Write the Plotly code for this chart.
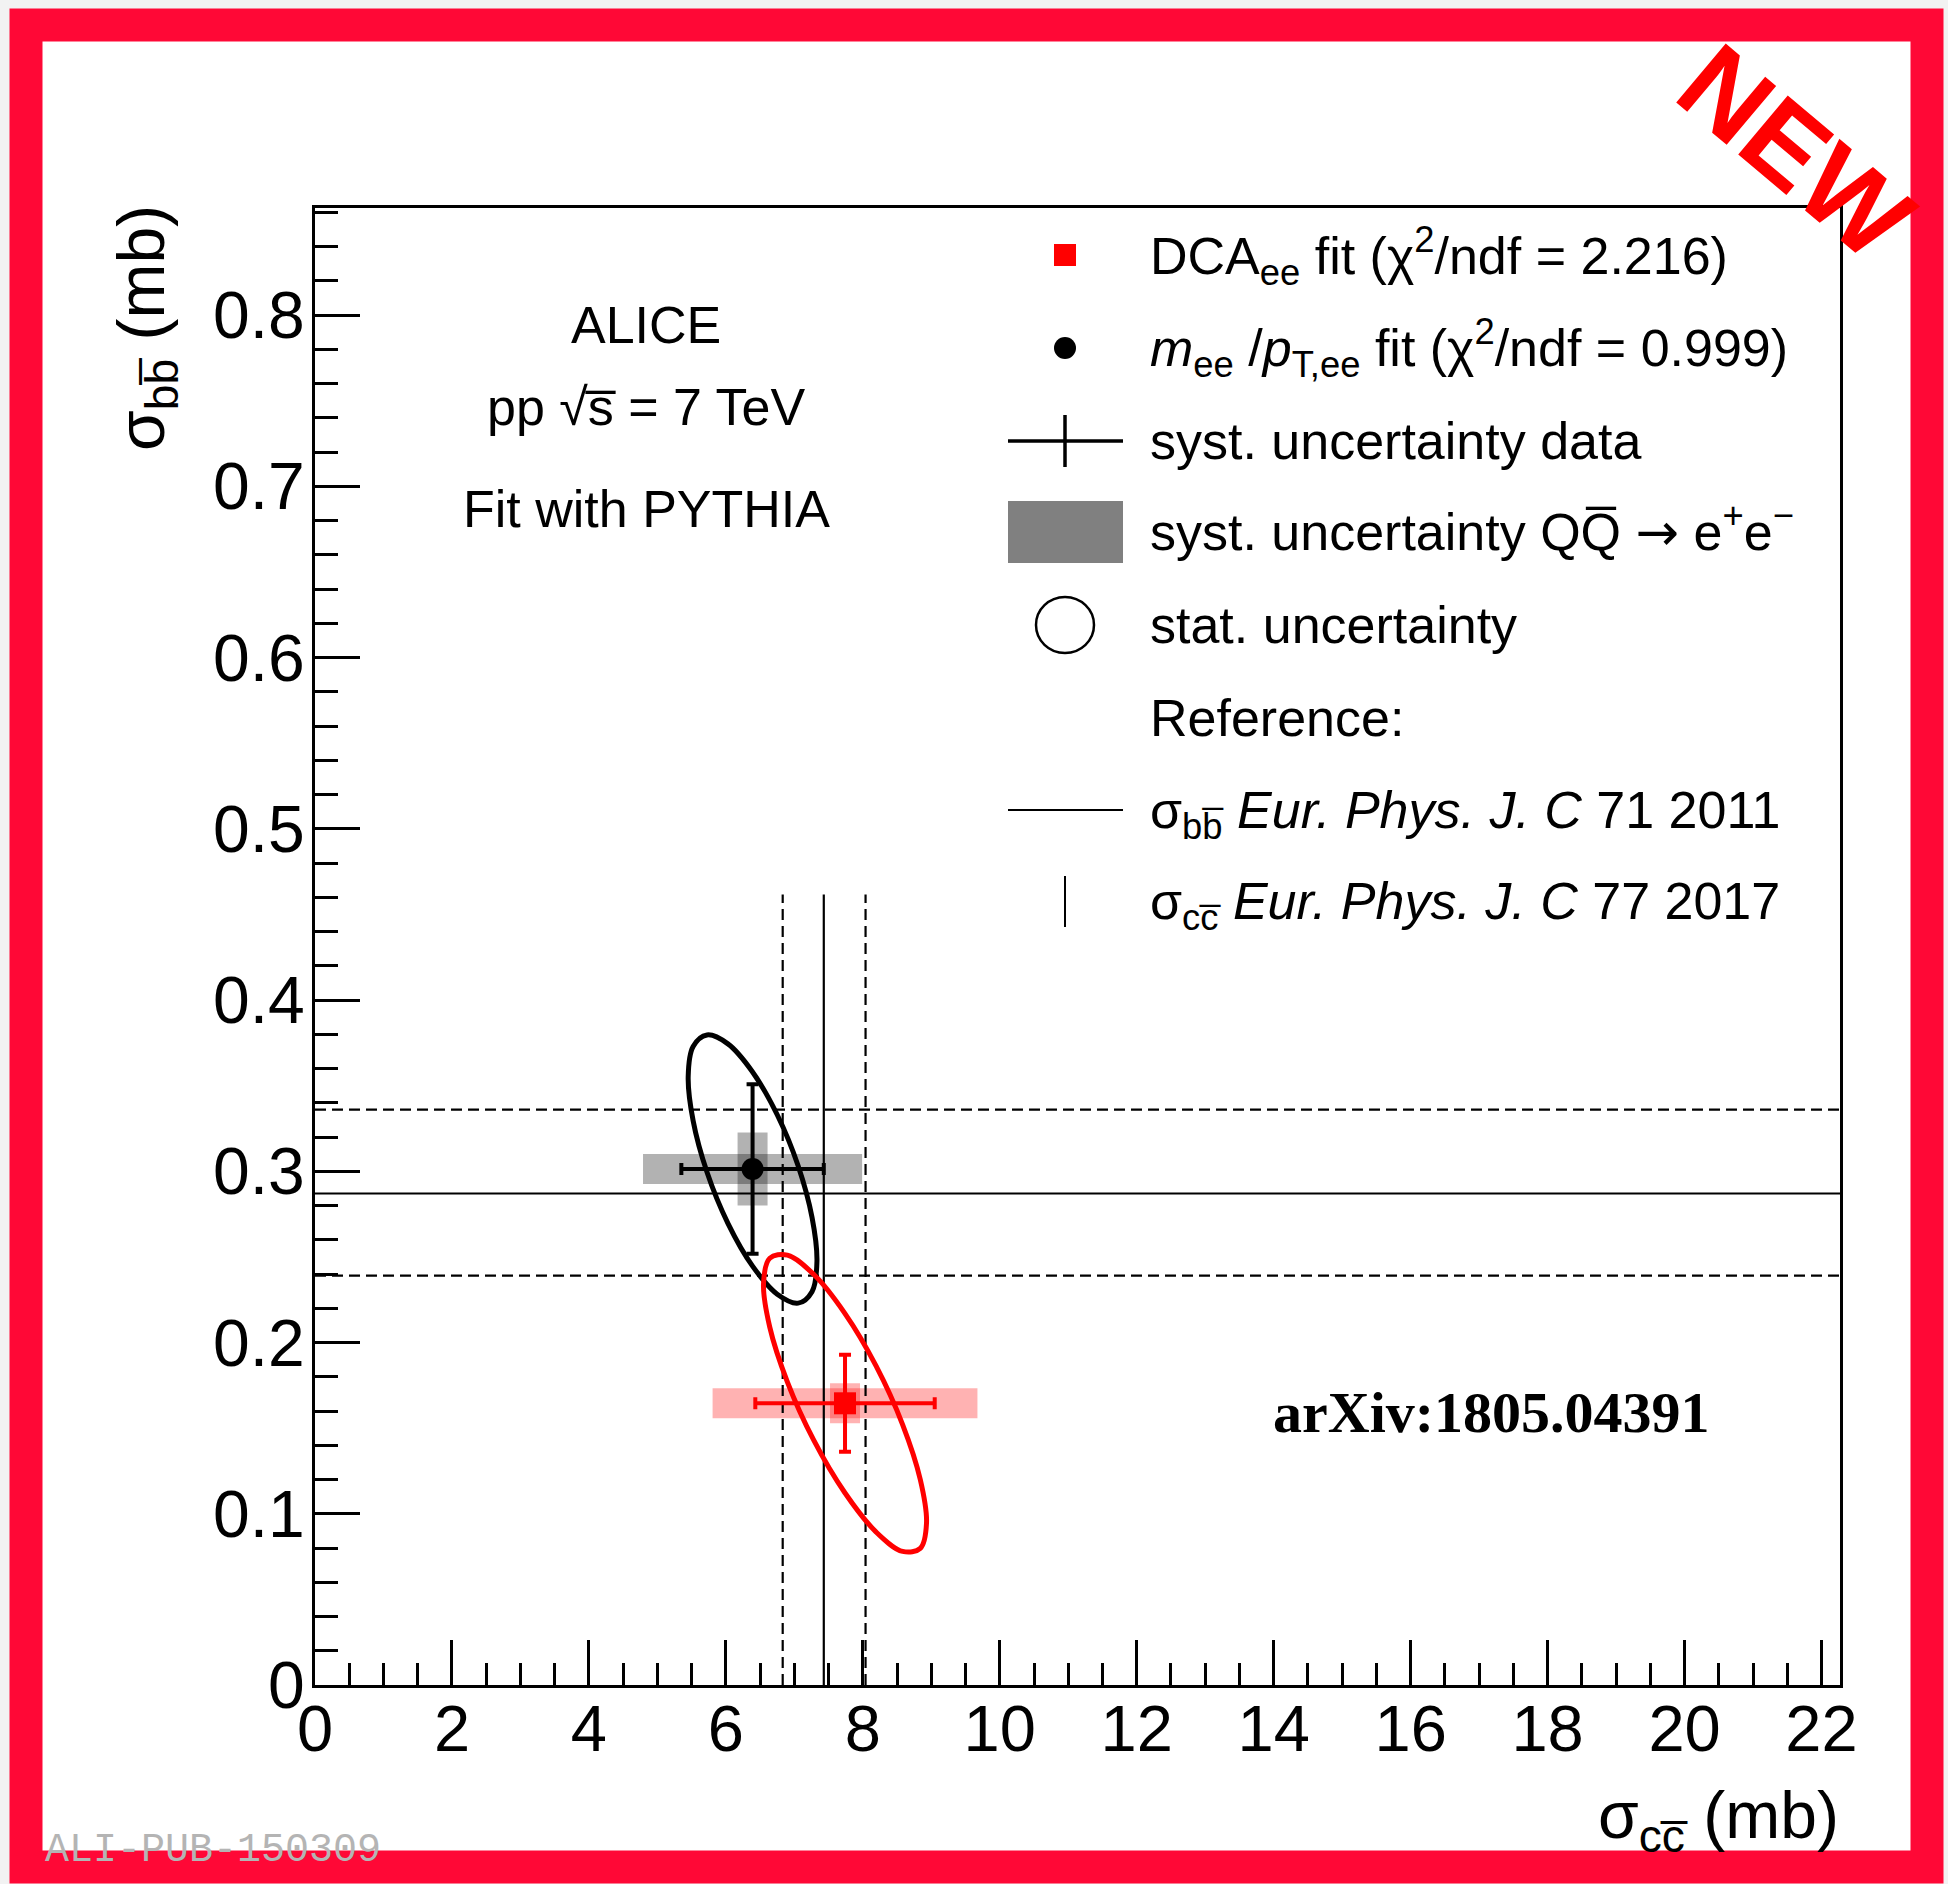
import plotly.graph_objects as go

# ---------------- data ----------------
fit_names = ["DCA_ee fit", "m_ee/pT_ee fit"]
fit_sigma_cc = [7.74, 6.39]          # mb
fit_sigma_bb = [0.1645, 0.3013]      # mb
fit_syst_data_cc = [1.31, 1.04]
fit_syst_data_bb = [0.0283, 0.0495]
fit_syst_qq_cc = [1.934, 1.60]
fit_syst_qq_bb = [0.0117, 0.0213]
fit_colors = ["#ff0000", "#000000"]
fit_box_colors = ["rgba(255,0,0,0.30)", "rgba(0,0,0,0.30)"]
fit_symbols = ["square", "circle"]

# stat. uncertainty contours (points read along each ellipse)
dca_stat_x = [8.93, 8.839, 8.581, 8.195, 7.74, 7.285, 6.899, 6.641, 6.55, 6.641, 6.899, 7.285, 7.74, 8.195, 8.581, 8.839]
dca_stat_y = [0.0946, 0.0798, 0.0780, 0.0893, 0.1121, 0.1428, 0.1769, 0.2090, 0.2344, 0.2492, 0.2510, 0.2397, 0.2169, 0.1862, 0.1521, 0.1200]
mee_stat_x = [7.33, 7.258, 7.055, 6.750, 6.39, 6.030, 5.725, 5.522, 5.45, 5.522, 5.725, 6.030, 6.39, 6.750, 7.055, 7.258]
mee_stat_y = [0.2473, 0.2297, 0.2230, 0.2282, 0.2446, 0.2696, 0.2994, 0.3295, 0.3553, 0.3729, 0.3796, 0.3744, 0.3580, 0.3330, 0.3032, 0.2731]

# reference measurements: [low, central, high]
ref_sigma_bb = [0.239, 0.287, 0.336]   # Eur. Phys. J. C 71 2011
ref_sigma_cc = [6.83, 7.43, 8.04]      # Eur. Phys. J. C 77 2017
ref_cc_line_top = 0.4616

x_range = [0.0, 22.27]
y_range = [0.0, 0.8625]
x_ticks = [0, 2, 4, 6, 8, 10, 12, 14, 16, 18, 20, 22]
y_ticks = [0, 0.1, 0.2, 0.3, 0.4, 0.5, 0.6, 0.7, 0.8]

# ---------------- layout geometry ----------------
W, H = 1948, 1884
ML, MR, MT, MB = 315, 108, 208, 199
PW, PH = W - ML - MR, H - MT - MB
FONT = "Liberation Sans, Arial, Helvetica, sans-serif"


def X(px):
    return (px - ML) / PW


def Y(py):
    return (H - MB - py) / PH


px_per_x = PW / (x_range[1] - x_range[0])
px_per_y = PH / (y_range[1] - y_range[0])
box_half_px = 15

fig = go.Figure()
shapes = []
annotations = []

# frame background / red border
shapes.append(dict(type="rect", xref="paper", yref="paper", layer="below",
                   x0=X(26), x1=X(1927), y0=Y(1867), y1=Y(25),
                   fillcolor="white", line=dict(width=0)))
shapes.append(dict(type="rect", xref="paper", yref="paper", layer="above",
                   x0=X(26), x1=X(1927), y0=Y(1867), y1=Y(25),
                   line=dict(color="#ff0836", width=33)))

# syst. uncertainty QQ -> ee boxes
for i in range(len(fit_names)):
    cx, cy = fit_sigma_cc[i], fit_sigma_bb[i]
    shapes.append(dict(type="rect", xref="x", yref="y", layer="below",
                       x0=cx - fit_syst_qq_cc[i], x1=cx + fit_syst_qq_cc[i],
                       y0=cy - box_half_px / px_per_y, y1=cy + box_half_px / px_per_y,
                       fillcolor=fit_box_colors[i], line=dict(width=0)))
    shapes.append(dict(type="rect", xref="x", yref="y", layer="below",
                       x0=cx - box_half_px / px_per_x, x1=cx + box_half_px / px_per_x,
                       y0=cy - fit_syst_qq_bb[i], y1=cy + fit_syst_qq_bb[i],
                       fillcolor=fit_box_colors[i], line=dict(width=0)))

# reference lines
for k, v in enumerate(ref_sigma_bb):
    fig.add_trace(go.Scatter(x=[x_range[0], x_range[1]], y=[v, v], mode="lines",
                             line=dict(color="black", width=2.2,
                                       dash="solid" if k == 1 else "11px,6px"),
                             hoverinfo="skip", showlegend=False))
for k, v in enumerate(ref_sigma_cc):
    fig.add_trace(go.Scatter(x=[v, v], y=[y_range[0], ref_cc_line_top], mode="lines",
                             line=dict(color="black", width=2.2,
                                       dash="solid" if k == 1 else "11px,6px"),
                             hoverinfo="skip", showlegend=False))

# stat. ellipses
for ex, ey, col in [(mee_stat_x, mee_stat_y, "black"), (dca_stat_x, dca_stat_y, "#ff0000")]:
    fig.add_trace(go.Scatter(x=ex + ex[:1], y=ey + ey[:1], mode="lines",
                             line=dict(color=col, width=5, shape="spline", smoothing=1.0),
                             hoverinfo="skip", showlegend=False))

# points with syst. data uncertainty
for i in range(len(fit_names)):
    fig.add_trace(go.Scatter(
        x=[fit_sigma_cc[i]], y=[fit_sigma_bb[i]], mode="markers",
        marker=dict(symbol=fit_symbols[i], size=22, color=fit_colors[i]),
        error_x=dict(type="data", array=[fit_syst_data_cc[i]], color=fit_colors[i],
                     thickness=4, width=6),
        error_y=dict(type="data", array=[fit_syst_data_bb[i]], color=fit_colors[i],
                     thickness=4, width=6),
        name=fit_names[i], showlegend=False))

# ---------------- legend (drawn by hand) ----------------
LX0, LX1, LXC, TX = 1008, 1123, 1065, 1148
shapes.append(dict(type="rect", xref="paper", yref="paper", layer="above",
                   x0=X(LXC - 11), x1=X(LXC + 11), y0=Y(266), y1=Y(244),
                   fillcolor="#ff0000", line=dict(width=0)))
shapes.append(dict(type="circle", xref="paper", yref="paper", layer="above",
                   x0=X(LXC - 11), x1=X(LXC + 11), y0=Y(359), y1=Y(337),
                   fillcolor="black", line=dict(width=0)))
shapes.append(dict(type="line", xref="paper", yref="paper", layer="above",
                   x0=X(LX0), x1=X(LX1), y0=Y(441), y1=Y(441),
                   line=dict(color="black", width=3.5)))
shapes.append(dict(type="line", xref="paper", yref="paper", layer="above",
                   x0=X(LXC), x1=X(LXC), y0=Y(467), y1=Y(415),
                   line=dict(color="black", width=3.5)))
shapes.append(dict(type="rect", xref="paper", yref="paper", layer="above",
                   x0=X(LX0), x1=X(LX1), y0=Y(563), y1=Y(501),
                   fillcolor="#808080", line=dict(width=0)))
shapes.append(dict(type="circle", xref="paper", yref="paper", layer="above",
                   x0=X(LXC - 29), x1=X(LXC + 29), y0=Y(653), y1=Y(597),
                   line=dict(color="black", width=2.5)))
shapes.append(dict(type="line", xref="paper", yref="paper", layer="above",
                   x0=X(LX0), x1=X(LX1), y0=Y(810), y1=Y(810),
                   line=dict(color="black", width=2)))
shapes.append(dict(type="line", xref="paper", yref="paper", layer="above",
                   x0=X(LXC), x1=X(LXC), y0=Y(927), y1=Y(876),
                   line=dict(color="black", width=2)))

ARROW = "<span style='font-family:DejaVu Sans'>→</span>"
legend_texts = [
    ("DCA<sub>ee</sub> fit (χ<sup>2</sup>/ndf = 2.216)", 256),
    ("<i>m</i><sub>ee</sub> /<i>p</i><sub>T,ee</sub> fit (χ<sup>2</sup>/ndf = 0.999)", 348),
    ("syst. uncertainty data", 441),
    ("syst. uncertainty QQ\u0305 " + ARROW + " e<sup>+</sup>e<sup>−</sup>", 528),
    ("stat. uncertainty", 625),
    ("Reference:", 718),
    ("σ<sub>bb\u0305</sub> <i>Eur. Phys. J. C</i> 71 2011", 814),
    ("σ<sub>cc\u0305</sub> <i>Eur. Phys. J. C</i> 77 2017", 905),
]
for txt, py in legend_texts:
    annotations.append(dict(text=txt, xref="paper", yref="paper", x=X(TX), y=Y(py),
                            xanchor="left", yanchor="middle", showarrow=False,
                            font=dict(family=FONT, size=52, color="black")))

# ALICE label
for txt, py in [("ALICE", 325), ("pp √s\u0305 = 7 TeV", 407), ("Fit with PYTHIA", 509)]:
    annotations.append(dict(text=txt, xref="paper", yref="paper", x=X(646), y=Y(py),
                            xanchor="center", yanchor="middle", showarrow=False,
                            font=dict(family=FONT, size=52, color="black")))

annotations.append(dict(text="<b>arXiv:1805.04391</b>", xref="paper", yref="paper",
                        x=X(1491), y=Y(1412), xanchor="center", yanchor="middle",
                        showarrow=False,
                        font=dict(family="Liberation Serif, Times New Roman, serif",
                                  size=58, color="black")))

# axis titles
annotations.append(dict(text="σ<sub>bb\u0305</sub> (mb)", xref="paper", yref="paper",
                        x=X(146), y=Y(203), xanchor="center", yanchor="top",
                        textangle=-90, showarrow=False,
                        font=dict(family=FONT, size=66, color="black")))
annotations.append(dict(text="σ<sub>cc\u0305</sub> (mb)", xref="paper", yref="paper",
                        x=X(1841), y=Y(1820), xanchor="right", yanchor="middle",
                        showarrow=False,
                        font=dict(family=FONT, size=66, color="black")))

# stamps
annotations.append(dict(text="<b>NEW</b>", xref="paper", yref="paper",
                        x=X(1796), y=Y(152), xanchor="center", yanchor="middle",
                        textangle=40, showarrow=False,
                        font=dict(family=FONT, size=112, color="#ff0000")))
annotations.append(dict(text="ALI-PUB-150309", xref="paper", yref="paper",
                        x=X(43), y=Y(1850), xanchor="left", yanchor="middle",
                        showarrow=False,
                        font=dict(family="Liberation Mono, Courier New, monospace",
                                  size=40, color="#b4b4b4")))

axis_common = dict(showgrid=False, zeroline=False, showline=True, linecolor="black",
                   linewidth=3, mirror=True, ticks="inside", tickcolor="black",
                   tickwidth=3, ticklen=45)

fig.update_layout(
    width=W, height=H,
    margin=dict(l=ML, r=MR, t=MT, b=MB, pad=0),
    paper_bgcolor="#f2f2f2", plot_bgcolor="white",
    showlegend=False,
    shapes=shapes, annotations=annotations,
    xaxis=dict(range=x_range, tickvals=x_ticks, ticktext=[str(v) for v in x_ticks],
               ticklabelstandoff=-15,
               tickfont=dict(family=FONT, size=65, color="black"),
               minor=dict(dtick=0.5, ticks="inside", ticklen=22, tickwidth=3,
                          tickcolor="black"),
               **axis_common),
    yaxis=dict(range=y_range, tickvals=y_ticks,
               ticktext=["0"] + [f"{v:.1f}" for v in y_ticks[1:]],
               ticklabelstandoff=-6,
               tickfont=dict(family=FONT, size=66, color="black"),
               minor=dict(dtick=0.02, ticks="inside", ticklen=23, tickwidth=3,
                          tickcolor="black"),
               **axis_common),
)

fig.write_html("out.html")
